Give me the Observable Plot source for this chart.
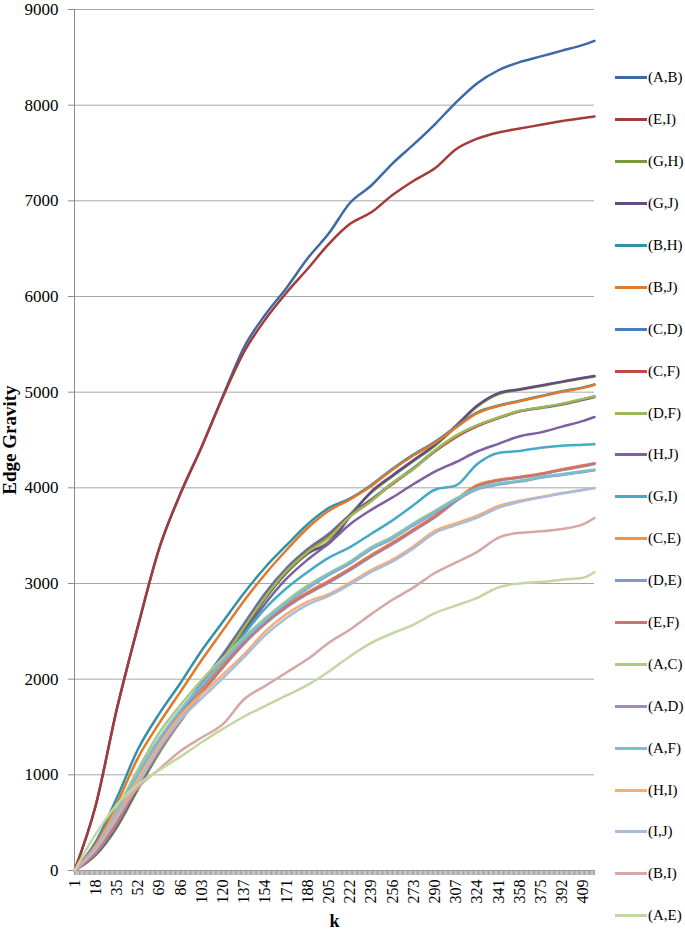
<!DOCTYPE html>
<html><head><meta charset="utf-8">
<script src="https://cdn.jsdelivr.net/npm/d3@7"></script>
<script src="https://cdn.jsdelivr.net/npm/@observablehq/plot@0.6"></script>
<style>
body{margin:0;background:#fff;font-family:"Liberation Serif","Times New Roman",serif;}
#wrap{position:relative;width:685px;height:930px;overflow:hidden;}
#chart{position:absolute;left:0;top:2px;}
#legend{position:absolute;left:615px;top:57px;}
.row{height:41.9px;display:flex;align-items:center;}
.sw{width:32px;height:3px;margin-right:1px;}
.lab{font-size:15px;color:#000;line-height:1;}
g[aria-label="x-axis label"] text, g[aria-label="y-axis label"] text{font-weight:bold;}
g[aria-label="y-axis label"] text{font-size:19px;}
g[aria-label="x-axis label"] text{font-size:18px;}
</style></head><body>
<div id="wrap"><div id="chart"></div><div id="legend"></div></div>
<script>
const kValues = [1, 18, 35, 52, 69, 86, 103, 120, 137, 154, 171, 188, 205, 222, 239, 256, 273, 290, 307, 324, 341, 358, 375, 392, 409, 418];
const kCategories = d3.range(1, 419);
const xTickLabels = [1, 18, 35, 52, 69, 86, 103, 120, 137, 154, 171, 188, 205, 222, 239, 256, 273, 290, 307, 324, 341, 358, 375, 392, 409];
const yTicks = [0, 1000, 2000, 3000, 4000, 5000, 6000, 7000, 8000, 9000];

const seriesNames = ["(A,B)", "(E,I)", "(G,H)", "(G,J)", "(B,H)", "(B,J)", "(C,D)", "(C,F)", "(D,F)", "(H,J)", "(G,I)", "(C,E)", "(D,E)", "(E,F)", "(A,C)", "(A,D)", "(A,F)", "(H,I)", "(I,J)", "(B,I)", "(A,E)"];
const seriesColors = ["#3D69A5", "#A33B38", "#789A3C", "#634C83", "#3291AA", "#E0792A", "#4A7EBB", "#BE4B48", "#98B954", "#7D60A0", "#46AAC5", "#F69240", "#7F9DC9", "#CD7371", "#AFC982", "#9E8BBD", "#74C0D7", "#F8AD74", "#A8BCDC", "#D8A6A5", "#C4D7A2"];

const AB = [0, 680, 1690, 2560, 3370, 3940, 4430, 4960, 5470, 5810, 6090, 6400, 6660, 6980, 7160, 7390, 7590, 7800, 8030, 8230, 8365, 8450, 8510, 8570, 8630, 8672];
const EI = [0, 680, 1690, 2560, 3370, 3940, 4430, 4950, 5420, 5760, 6040, 6290, 6550, 6760, 6880, 7060, 7210, 7340, 7540, 7650, 7715, 7755, 7795, 7835, 7865, 7882];
const GH = [0, 160, 450, 850, 1230, 1560, 1870, 2180, 2500, 2840, 3110, 3310, 3440, 3720, 3950, 4120, 4280, 4440, 4640, 4850, 4980, 5025, 5065, 5105, 5145, 5165];
const GJ = [0, 170, 470, 870, 1250, 1580, 1880, 2190, 2510, 2850, 3120, 3320, 3420, 3700, 3960, 4130, 4290, 4450, 4650, 4860, 4990, 5030, 5070, 5110, 5150, 5168];
const BH = [0, 300, 760, 1270, 1640, 1960, 2300, 2600, 2900, 3170, 3400, 3620, 3790, 3890, 4030, 4200, 4350, 4480, 4640, 4790, 4860, 4910, 4960, 5010, 5050, 5080];
const BJ = [0, 270, 700, 1180, 1540, 1870, 2200, 2510, 2820, 3100, 3350, 3580, 3760, 3880, 4020, 4190, 4340, 4470, 4630, 4780, 4855, 4905, 4955, 5005, 5045, 5078];
const CD = [0, 230, 590, 1000, 1350, 1660, 1960, 2260, 2580, 2900, 3160, 3360, 3520, 3720, 3880, 4050, 4210, 4390, 4540, 4650, 4730, 4800, 4835, 4870, 4920, 4950];
const CF = [0, 220, 570, 980, 1330, 1640, 1930, 2230, 2550, 2870, 3140, 3340, 3500, 3710, 3870, 4040, 4200, 4380, 4530, 4645, 4730, 4800, 4840, 4875, 4925, 4955];
const DF = [0, 210, 560, 970, 1320, 1630, 1920, 2210, 2540, 2860, 3130, 3330, 3480, 3700, 3860, 4050, 4200, 4390, 4545, 4655, 4735, 4805, 4840, 4880, 4930, 4958];
const HJ = [0, 200, 520, 920, 1290, 1600, 1880, 2170, 2480, 2790, 3050, 3250, 3420, 3620, 3770, 3900, 4040, 4170, 4270, 4380, 4460, 4540, 4580, 4640, 4700, 4740];
const GI = [0, 220, 560, 950, 1300, 1610, 1900, 2190, 2470, 2740, 2950, 3120, 3270, 3380, 3520, 3660, 3820, 3980, 4025, 4250, 4365, 4385, 4420, 4440, 4450, 4456];
const CE = [0, 200, 520, 930, 1290, 1600, 1880, 2150, 2390, 2600, 2770, 2910, 3030, 3160, 3300, 3430, 3570, 3710, 3880, 4030, 4085, 4115, 4150, 4195, 4235, 4258];
const DE = [0, 180, 490, 890, 1250, 1560, 1850, 2120, 2370, 2580, 2750, 2890, 3010, 3140, 3280, 3410, 3550, 3690, 3860, 4010, 4075, 4105, 4140, 4185, 4225, 4250];
const EF = [0, 190, 500, 900, 1260, 1570, 1860, 2130, 2380, 2590, 2760, 2900, 3020, 3150, 3290, 3420, 3560, 3700, 3870, 4020, 4080, 4110, 4145, 4190, 4230, 4255];
const AC = [0, 250, 640, 1060, 1440, 1730, 1990, 2220, 2440, 2640, 2820, 2980, 3110, 3230, 3380, 3490, 3630, 3760, 3890, 3995, 4045, 4075, 4115, 4145, 4175, 4190];
const AD = [0, 230, 600, 1000, 1360, 1660, 1920, 2180, 2410, 2610, 2790, 2950, 3090, 3210, 3360, 3470, 3610, 3740, 3870, 3985, 4035, 4065, 4105, 4135, 4165, 4184];
const AF = [0, 240, 620, 1020, 1380, 1680, 1940, 2190, 2420, 2620, 2800, 2960, 3100, 3220, 3370, 3480, 3620, 3750, 3880, 3990, 4040, 4070, 4110, 4140, 4170, 4186];
const HI = [0, 240, 580, 960, 1320, 1620, 1840, 2050, 2260, 2500, 2680, 2810, 2890, 3010, 3140, 3250, 3390, 3550, 3630, 3710, 3810, 3865, 3905, 3945, 3980, 3998];
const IJ = [0, 220, 550, 910, 1280, 1580, 1800, 2010, 2230, 2460, 2640, 2780, 2870, 2990, 3120, 3230, 3370, 3530, 3610, 3690, 3790, 3855, 3900, 3940, 3978, 3996];
const BI = [0, 250, 590, 870, 1060, 1250, 1390, 1530, 1790, 1930, 2070, 2210, 2380, 2520, 2680, 2830, 2960, 3110, 3220, 3330, 3480, 3530, 3545, 3570, 3620, 3685];
const AE = [0, 380, 690, 900, 1050, 1190, 1340, 1480, 1610, 1720, 1830, 1940, 2080, 2240, 2380, 2480, 2570, 2690, 2770, 2850, 2960, 3000, 3015, 3040, 3060, 3120];

const seriesValues = [AB, EI, GH, GJ, BH, BJ, CD, CF, DF, HJ, GI, CE, DE, EF, AC, AD, AF, HI, IJ, BI, AE];

const rows = seriesNames.flatMap((name, i) => kValues.map((k, j) => ({series: name, k, value: seriesValues[i][j]})));

const chart = Plot.plot({
  width: 600,
  height: 928,
  marginLeft: 74,
  marginRight: 6,
  marginTop: 7,
  marginBottom: 60,
  style: {fontFamily: "'Liberation Serif', 'Times New Roman', serif", fontSize: "17px", color: "#000", background: "transparent", overflow: "visible"},
  x: {domain: [1, 418]},
  y: {domain: [0, 9000]},
  color: {domain: seriesNames, range: seriesColors},
  marks: [
    Plot.gridY(yTicks, {stroke: "#a6a6a6", strokeOpacity: 1}),
    Plot.ruleX([1], {stroke: "#8c8c8c"}),
    Plot.ruleY([0], {stroke: "#8c8c8c"}),
    Plot.axisY(yTicks, {tickSize: 6, tickPadding: 10, stroke: "#8c8c8c", fontSize: 17, tickFormat: d => String(d), label: "Edge Gravity", labelAnchor: "center", labelArrow: "none", labelOffset: 72}),
    Plot.axisX(kCategories, {tickSize: 5, text: null, stroke: "#a0a0a0", label: null}),
    Plot.axisX(xTickLabels, {tickSize: 0, tickPadding: 9, tickRotate: -90, fontSize: 16, tickFormat: d => String(d), label: "k", labelAnchor: "center", labelArrow: "none", labelOffset: 56}),
    Plot.line(rows, {x: "k", y: "value", z: "series", stroke: "series", strokeWidth: 2.5, curve: "monotone-x"})
  ]
});
document.getElementById("chart").appendChild(chart);

const legend = document.getElementById("legend");
seriesNames.forEach((name, i) => {
  const row = document.createElement("div");
  row.className = "row";
  const sw = document.createElement("div");
  sw.className = "sw";
  sw.style.background = seriesColors[i];
  const lab = document.createElement("span");
  lab.className = "lab";
  lab.textContent = name;
  row.appendChild(sw);
  row.appendChild(lab);
  legend.appendChild(row);
});
</script>
</body></html>
